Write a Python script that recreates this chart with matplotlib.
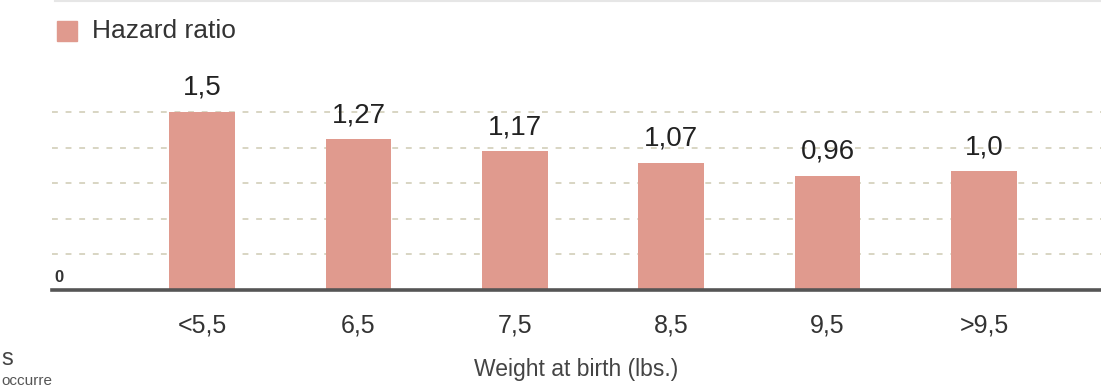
import matplotlib
matplotlib.use("Agg")
import matplotlib.pyplot as plt
from matplotlib.patches import Rectangle
from matplotlib.lines import Line2D

plt.rcParams['font.family'] = ['Liberation Sans', 'DejaVu Sans']

# Data
categories = ["<5,5", "6,5", "7,5", "8,5", "9,5", ">9,5"]
hazard_ratio = [1.5, 1.27, 1.17, 1.07, 0.96, 1.0]
value_labels = ["1,5", "1,27", "1,17", "1,07", "0,96", "1,0"]
grid_levels = [0.3, 0.6, 0.9, 1.2, 1.5]
series_name = "Hazard ratio"
x_title = "Weight at birth (lbs.)"

W, H = 1101, 389
fig = plt.figure(figsize=(W / 100, H / 100), dpi=100)
fig.patch.set_facecolor("white")

# Axes: baseline at y=290px, spanning from x=52px to the right edge
ax = fig.add_axes([52 / W, (H - 290) / H, 1 - 52 / W, 290 / H])
ax.set_xlim(-0.959, 5.748)
ax.set_ylim(0, 2.443)

bar_color = "#e09a8e"
x = list(range(len(categories)))
ax.bar(x, hazard_ratio, width=0.42, color=bar_color, zorder=3)

for lvl in grid_levels:
    ax.axhline(lvl, color="#d8d5c3", lw=1.4, ls=(0, (3, 4)), zorder=1)

ax.axhline(0, color="#555555", lw=2.6, zorder=4, clip_on=False)

for xi, v, lab in zip(x, hazard_ratio, value_labels):
    ax.annotate(lab, (xi, v), xytext=(0, 8), textcoords="offset points",
                ha="center", va="bottom", fontsize=20, color="#222222")

ax.set_xticks(x)
ax.set_xticklabels(categories, fontsize=18, color="#333333")
ax.tick_params(axis="x", length=0, pad=17)
ax.set_yticks([])
for s in ax.spines.values():
    s.set_visible(False)
ax.set_facecolor("none")

ax.set_xlabel(x_title, fontsize=16.5, color="#444444", labelpad=15)

# "0" marker above the baseline
ax.text(0.002, 5 / 290, "0", transform=ax.transAxes, fontsize=12,
        fontweight="bold", color="#333333", ha="left", va="bottom")

# Legend swatch and label
fig.patches.append(Rectangle((57 / W, 1 - 41 / H), 20 / W, 20 / H,
                             transform=fig.transFigure, color=bar_color))
fig.text(92 / W, 1 - 31 / H, series_name, fontsize=19, color="#333333",
         ha="left", va="center")

# Faint rule along the top
fig.add_artist(Line2D([55 / W, 1], [1 - 0.8 / H, 1 - 0.8 / H],
                      transform=fig.transFigure, color="#e6e6e6", lw=1.5))

# Neighbouring text at the left edge
fig.text(1 / W, 1 - 359 / H, "s", fontsize=17, color="#444444",
         ha="left", va="center")
fig.text(1 / W, 1 / H, "occurre", fontsize=11, color="#555555",
         ha="left", va="bottom")

fig.savefig("out.png", dpi=100, facecolor="white")
